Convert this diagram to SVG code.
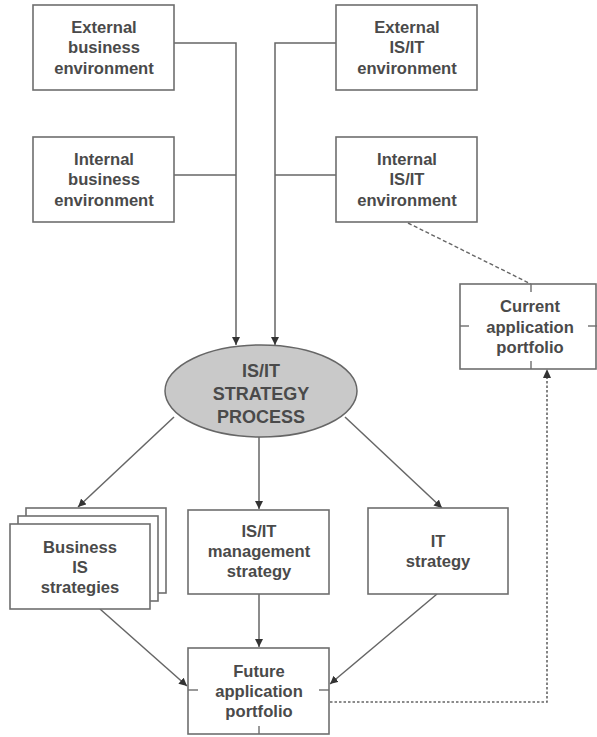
<svg xmlns="http://www.w3.org/2000/svg" width="597" height="737" viewBox="0 0 597 737">
<style>
.box{fill:#fff;stroke:#6e6e6e;stroke-width:1.6}
.t{font-family:"Liberation Sans",Arial,sans-serif;font-weight:bold;font-size:16.6px;fill:#4a4a4a;text-anchor:middle}
.big{font-size:18px}
.ln{fill:none;stroke:#666;stroke-width:1.5}
.dash{fill:none;stroke:#666;stroke-width:1.4;stroke-dasharray:4,2.5}
.dot{fill:none;stroke:#666;stroke-width:1.6;stroke-dasharray:2.5,2}
.tick{stroke:#6e6e6e;stroke-width:1.4}
</style>
<defs>
<marker id="ah" viewBox="0 0 10 10" refX="10" refY="5" markerWidth="8" markerHeight="8" markerUnits="userSpaceOnUse" orient="auto">
<path d="M0,0 L10,5 L0,10 z" fill="#333"/>
</marker>
</defs>
<rect width="597" height="737" fill="#fff"/>

<g id="connectors">
<path class="ln" d="M174,43 H236 V345" marker-end="url(#ah)"/>
<path class="ln" d="M174,175 H236"/>
<path class="ln" d="M336,43 H275 V345" marker-end="url(#ah)"/>
<path class="ln" d="M336,175 H275"/>
<path class="dash" d="M408,223 L531,284"/>
<path class="ln" d="M174,417 L78,507" marker-end="url(#ah)"/>
<path class="ln" d="M259,437 V509" marker-end="url(#ah)"/>
<path class="ln" d="M345,417 L442,508" marker-end="url(#ah)"/>
<path class="ln" d="M100,609 L187,686" marker-end="url(#ah)"/>
<path class="ln" d="M259,594 V647" marker-end="url(#ah)"/>
<path class="ln" d="M437,594 L330,684" marker-end="url(#ah)"/>
<path class="dot" d="M330,702 H547 V378"/>
<path d="M547,369 L543,378 L551,378 z" fill="#333"/>
</g>

<g id="ext-business">
<rect class="box" x="33" y="5" width="141" height="85"/>
<text class="t" x="104" y="33">External</text>
<text class="t" x="104" y="53">business</text>
<text class="t" x="104" y="74">environment</text>
</g>
<g id="int-business">
<rect class="box" x="33" y="137" width="141" height="85"/>
<text class="t" x="104" y="165">Internal</text>
<text class="t" x="104" y="185">business</text>
<text class="t" x="104" y="206">environment</text>
</g>
<g id="ext-isit">
<rect class="box" x="336" y="5" width="141" height="85"/>
<text class="t" x="407" y="33">External</text>
<text class="t" x="407" y="53">IS/IT</text>
<text class="t" x="407" y="74">environment</text>
</g>
<g id="int-isit">
<rect class="box" x="336" y="137" width="141" height="85"/>
<text class="t" x="407" y="165">Internal</text>
<text class="t" x="407" y="185">IS/IT</text>
<text class="t" x="407" y="206">environment</text>
</g>
<g id="current-portfolio">
<rect class="box" x="460" y="284" width="136" height="85"/>
<line class="tick" x1="531" y1="284" x2="531" y2="292"/>
<line class="tick" x1="531" y1="361" x2="531" y2="369"/>
<line class="tick" x1="460" y1="326" x2="469" y2="326"/>
<line class="tick" x1="588" y1="326" x2="597" y2="326"/>
<text class="t" x="530" y="312">Current</text>
<text class="t" x="530" y="333">application</text>
<text class="t" x="530" y="353">portfolio</text>
</g>
<g id="strategy-process">
<ellipse cx="261" cy="391" rx="96" ry="46" fill="#c9c9c9" stroke="#666" stroke-width="1.5"/>
<text class="t big" x="261" y="377">IS/IT</text>
<text class="t big" x="261" y="400">STRATEGY</text>
<text class="t big" x="261" y="423">PROCESS</text>
</g>
<g id="business-is">
<rect class="box" x="26" y="508" width="140" height="85"/>
<rect class="box" x="18" y="516" width="140" height="85"/>
<rect class="box" x="10" y="524" width="140" height="85"/>
<text class="t" x="80" y="553">Business</text>
<text class="t" x="80" y="573">IS</text>
<text class="t" x="80" y="593">strategies</text>
</g>
<g id="mgmt-strategy">
<rect class="box" x="188" y="510" width="141" height="84"/>
<text class="t" x="259" y="537">IS/IT</text>
<text class="t" x="259" y="557">management</text>
<text class="t" x="259" y="577">strategy</text>
</g>
<g id="it-strategy">
<rect class="box" x="368" y="508" width="140" height="86"/>
<text class="t" x="438" y="547">IT</text>
<text class="t" x="438" y="567">strategy</text>
</g>
<g id="future-portfolio">
<rect class="box" x="188" y="648" width="141" height="86"/>
<line class="tick" x1="188" y1="690" x2="198" y2="690"/>
<line class="tick" x1="319" y1="690" x2="329" y2="690"/>
<line class="tick" x1="259" y1="726" x2="259" y2="734"/>
<text class="t" x="259" y="677">Future</text>
<text class="t" x="259" y="697">application</text>
<text class="t" x="259" y="717">portfolio</text>
</g>
</svg>
